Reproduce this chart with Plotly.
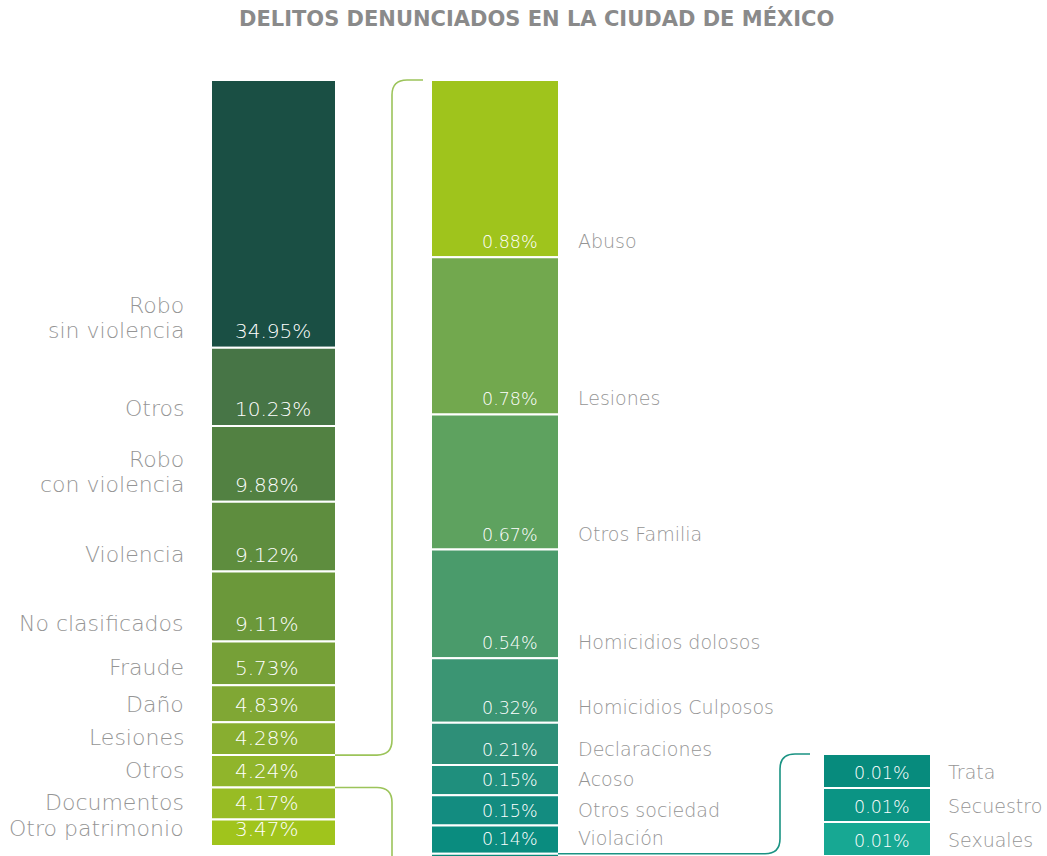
import plotly.graph_objects as go

W, H = 1047, 856

# ---- data -------------------------------------------------------------
main_labels = ["Robo<br>sin violencia", "Otros", "Robo<br>con violencia", "Violencia",
               "No clasificados", "Fraude", "Daño", "Lesiones", "Otros",
               "Documentos", "Otro patrimonio"]
main_values = [34.95, 10.23, 9.88, 9.12, 9.11, 5.73, 4.83, 4.28, 4.24, 4.17, 3.47]
main_colors = ["#1a4f44", "#477546", "#528142", "#5e8d3e", "#6b983a", "#76a037",
               "#80a734", "#88ae30", "#90b52b", "#98bc24", "#a0c41c"]

# breakdown of "Otros" (4.24%)
otros_labels = ["Abuso", "Lesiones", "Otros Familia", "Homicidios dolosos",
                "Homicidios Culposos", "Declaraciones", "Acoso", "Otros sociedad",
                "Violación", "Otros"]
otros_values = [0.88, 0.78, 0.67, 0.54, 0.32, 0.21, 0.15, 0.15, 0.14, 0.40]
otros_colors = ["#9fc41c", "#72a84e", "#5ea25f", "#4a9b6b", "#3b9573", "#2e8f78",
                "#1f8f7d", "#138c80", "#0a8c7f", "#0a8a7a"]

# breakdown of the smallest categories
small_labels = ["Trata", "Secuestro", "Sexuales"]
small_values = [0.01, 0.01, 0.01]
small_colors = ["#078b7d", "#0b9484", "#17a893"]

# ---- geometry ---------------------------------------------------------
TOP = 80                     # top edge of the two tall columns (px)
MAIN_SCALE = 7.66            # px per percentage point
OTROS_SCALE = 201.5
SMALL_TOP = 754
SMALL_SCALE = 3400

MAIN_X0, MAIN_X1 = 212, 335
OTROS_X0, OTROS_X1 = 432, 558
SMALL_X0, SMALL_X1 = 824, 930

FAMILY = "DejaVu Sans"
GREY = "#959595"
MAIN_LABEL_FONT = dict(family=FAMILY, size=22, color=GREY, weight=200)
MAIN_VALUE_FONT = dict(family=FAMILY, size=20, color="white", weight=200)
SUB_LABEL_FONT = dict(family=FAMILY, size=19, color=GREY, weight=200)
SUB_VALUE_FONT = dict(family=FAMILY, size=17.5, color="white", weight=200)
LINE_GAP = 25                # px between stacked label lines


def axis_range(top_px, scale):
    # reversed range: value 0 sits at top_px, values grow downward
    return [(H - top_px) / scale, -top_px / scale]


def cumulate(values):
    bases, tot = [], 0.0
    for v in values:
        bases.append(tot)
        tot += v
    return bases


def to_paper(px):
    return 1 - px / H


main_base = cumulate(main_values)
otros_base = cumulate(otros_values)
small_base = cumulate(small_values)

fig = go.Figure()


def add_column(x0, x1, values, bases, colors, yaxis):
    # the white outline eats 1px on each side, so widen by 2px
    fig.add_trace(go.Bar(
        x=[(x0 + x1) / 2] * len(values), y=values, base=bases, width=x1 - x0 + 2,
        marker=dict(color=colors, line=dict(color="white", width=2)),
        yaxis=yaxis, hoverinfo="skip", showlegend=False))


add_column(MAIN_X0, MAIN_X1, main_values, main_base, main_colors, "y")
add_column(OTROS_X0, OTROS_X1, otros_values, otros_base, otros_colors, "y2")
add_column(SMALL_X0, SMALL_X1, small_values, small_base, small_colors, "y3")

annotations = []


def note(text, x, y, yref, xanchor, font, yshift=3):
    # multi-line labels are stacked line by line for a tighter leading
    lines = text.split("<br>")
    for k, line in enumerate(lines):
        annotations.append(dict(text=line, x=x, y=y, xref="x", yref=yref,
                                xanchor=xanchor, yanchor="bottom",
                                showarrow=False, font=font,
                                yshift=yshift + (len(lines) - 1 - k) * LINE_GAP))


for lab, v, b in zip(main_labels, main_values, main_base):
    bottom = b + v
    note(f"{v:.2f}%", MAIN_X0 + 21, bottom, "y", "left", MAIN_VALUE_FONT)
    note(lab, 186, bottom, "y", "right", MAIN_LABEL_FONT)

for lab, v, b in zip(otros_labels, otros_values, otros_base):
    bottom = b + v
    note(f"{v:.2f}%", OTROS_X1 - 18, bottom, "y2", "right", SUB_VALUE_FONT)
    note(lab, 576, bottom, "y2", "left", SUB_LABEL_FONT)

for lab, v, b in zip(small_labels, small_values, small_base):
    bottom = b + v
    note(f"{v:.2f}%", SMALL_X1 - 18, bottom, "y3", "right", SUB_VALUE_FONT)
    note(lab, 946, bottom, "y3", "left", SUB_LABEL_FONT)

annotations.append(dict(
    text="<b>DELITOS DENUNCIADOS EN LA CIUDAD DE MÉXICO</b>",
    x=536, y=to_paper(19), xref="x", yref="paper", xanchor="center", yanchor="middle",
    showarrow=False, font=dict(family="DejaVu Sans", size=21, color="#8a8a8a")))


# ---- connector brackets ----------------------------------------------
def main_px(v):
    return TOP + v * MAIN_SCALE


def otros_px(v):
    return TOP + v * OTROS_SCALE


def P(x, px):
    return f"{x},{to_paper(px)}"


R = 15

# "Otros" segment of the main column -> column of its breakdown
otros_idx = 8
y_start = main_px(main_base[otros_idx])
y_end = main_px(main_base[otros_idx] + main_values[otros_idx])
vx = 392
path1 = (f"M {P(MAIN_X1, y_start)} L {P(vx - R, y_start)} "
         f"Q {P(vx, y_start)} {P(vx, y_start - R)} L {P(vx, TOP + R)} "
         f"Q {P(vx, TOP)} {P(vx + R, TOP)} L {P(OTROS_X0 - 9, TOP)}")
otros_bottom = otros_px(sum(otros_values))
path2 = (f"M {P(MAIN_X1, y_end)} L {P(vx - R, y_end)} "
         f"Q {P(vx, y_end)} {P(vx, y_end + R)} L {P(vx, otros_bottom)}")

# last segment of the breakdown -> column of the smallest categories
last_idx = len(otros_values) - 1
y3 = otros_px(otros_base[last_idx])
vx3 = 780
path3 = (f"M {P(OTROS_X1, y3)} L {P(vx3 - R, y3)} "
         f"Q {P(vx3, y3)} {P(vx3, y3 - R)} L {P(vx3, SMALL_TOP + R)} "
         f"Q {P(vx3, SMALL_TOP)} {P(vx3 + R, SMALL_TOP)} L {P(SMALL_X0 - 14, SMALL_TOP)}")

shapes = [
    dict(type="path", path=path1, xref="x", yref="paper", line=dict(color="#9cc45a", width=1.6)),
    dict(type="path", path=path2, xref="x", yref="paper", line=dict(color="#9cc45a", width=1.6)),
    dict(type="path", path=path3, xref="x", yref="paper", line=dict(color="#1a9383", width=1.6)),
]

hidden = dict(visible=False, fixedrange=True, domain=[0, 1])
fig.update_layout(
    width=W, height=H, margin=dict(l=0, r=0, t=0, b=0),
    paper_bgcolor="white", plot_bgcolor="white", barmode="overlay",
    xaxis=dict(range=[0, W], visible=False, fixedrange=True),
    yaxis=dict(range=axis_range(TOP, MAIN_SCALE), **hidden),
    yaxis2=dict(range=axis_range(TOP, OTROS_SCALE), overlaying="y", **hidden),
    yaxis3=dict(range=axis_range(SMALL_TOP, SMALL_SCALE), overlaying="y", **hidden),
    annotations=annotations, shapes=shapes,
)

fig.write_html("out.html")
